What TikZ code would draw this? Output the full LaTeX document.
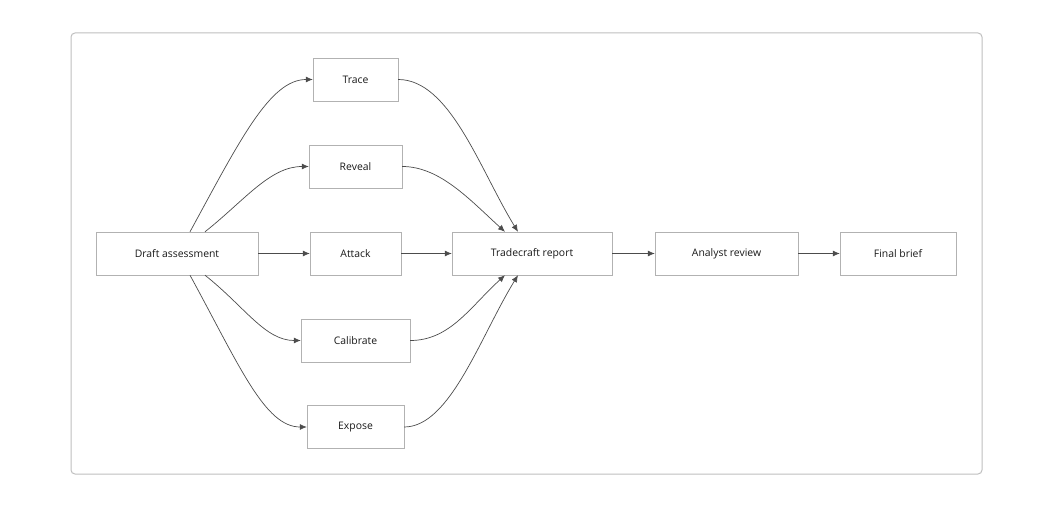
\documentclass[tikz,border=0pt]{standalone}
\usepackage{fontspec}
\setmainfont{Open Sans}
\usetikzlibrary{arrows.meta}
\begin{document}
\begin{tikzpicture}[x=1pt,y=-1pt,
  box/.style={draw=black!30,fill=white,minimum height=43pt,inner sep=0pt,font=\fontsize{10.4}{12}\selectfont,text=black!90},
  arr/.style={draw=black!70,line width=0.7pt,-{Latex[length=7pt,width=6pt]}}]
\useasboundingbox (0,0) rectangle (1049,505);
\draw[black!25,line width=1pt,rounded corners=4pt] (71,33) rectangle (982,474);
\node[box,minimum width=162pt] (d) at (177,253.5) {Draft assessment};
\node[box,minimum width=85pt] (t) at (355.5,79.5) {Trace};
\node[box,minimum width=93pt] (r) at (355.5,166.5) {Reveal};
\node[box,minimum width=91pt] (a) at (355.5,253.5) {Attack};
\node[box,minimum width=109pt] (c) at (355.5,340.5) {Calibrate};
\node[box,minimum width=97pt] (e) at (355.5,427) {Expose};
\node[box,minimum width=160pt] (tr) at (532,253.5) {Tradecraft report};
\node[box,minimum width=143pt] (ar) at (726.5,253.5) {Analyst review};
\node[box,minimum width=116pt] (f) at (898,253.5) {Final brief};
\coordinate (dt1) at ([xshift=13pt]d.north);
\coordinate (dt2) at ([xshift=28pt]d.north);
\coordinate (db1) at ([xshift=13pt]d.south);
\coordinate (db2) at ([xshift=28pt]d.south);
\draw[arr] (dt1) .. controls (240,140) and (270,79.5) .. (t.west);
\draw[arr] (dt2) .. controls (245,200) and (270,166.5) .. (r.west);
\draw[arr] (d.east) -- (a.west);
\draw[arr] (db2) .. controls (245,307) and (265,340.5) .. (c.west);
\draw[arr] (db1) .. controls (240,367) and (265,427) .. (e.west);
\coordinate (tt1) at ([xshift=-14pt]tr.north);
\coordinate (tt2) at ([xshift=-27pt]tr.north);
\coordinate (tb1) at ([xshift=-14pt]tr.south);
\coordinate (tb2) at ([xshift=-27pt]tr.south);
\draw[arr] (t.east) .. controls (450,79.5) and (480,170) .. (tt1);
\draw[arr] (r.east) .. controls (440,166.5) and (470,200) .. (tt2);
\draw[arr] (a.east) -- (tr.west);
\draw[arr] (c.east) .. controls (450,340.5) and (470,307) .. (tb2);
\draw[arr] (e.east) .. controls (450,427) and (480,337) .. (tb1);
\draw[arr] (tr.east) -- (ar.west);
\draw[arr] (ar.east) -- (f.west);
\end{tikzpicture}
\end{document}
